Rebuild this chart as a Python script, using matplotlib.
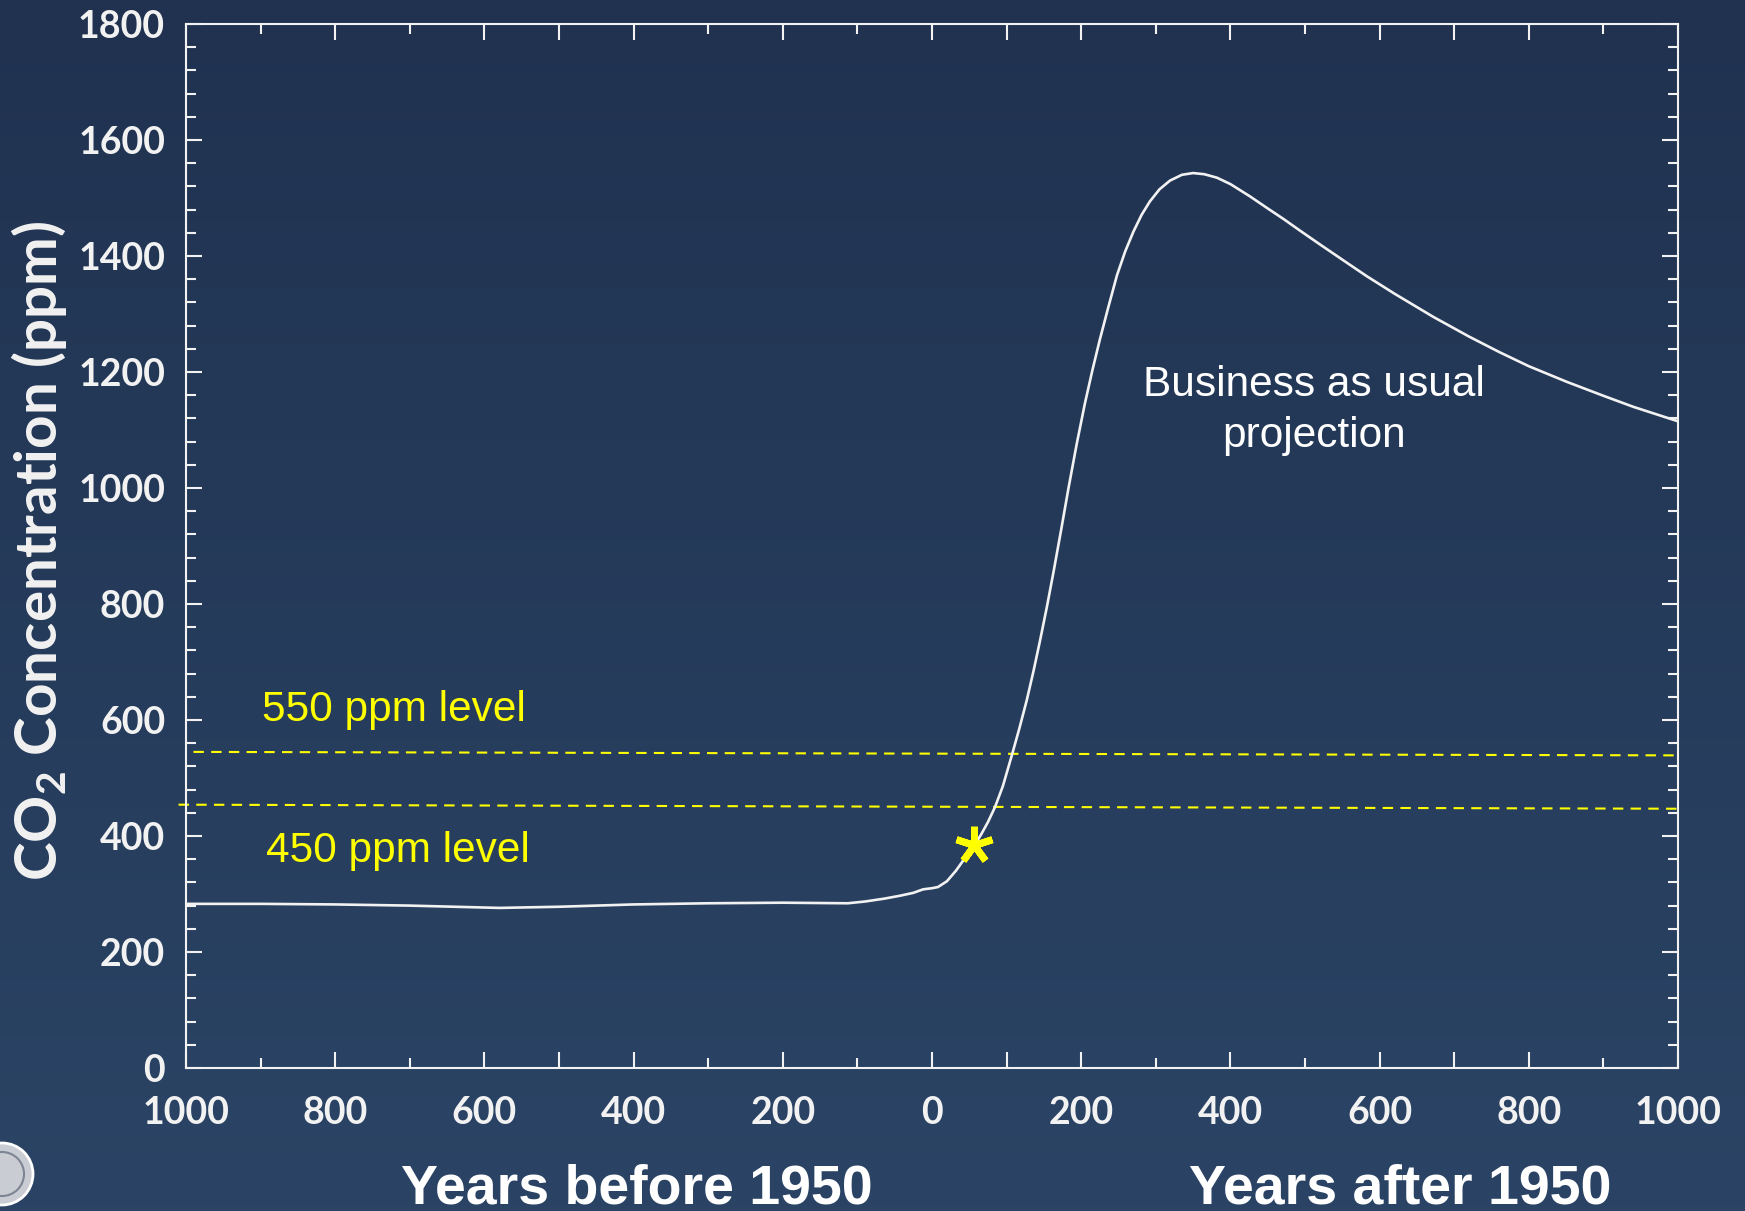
import numpy as np
import matplotlib.pyplot as plt
from matplotlib.ticker import MultipleLocator, FuncFormatter
from matplotlib.patches import Circle

# CO2 record and business-as-usual projection, years relative to 1950
years = [-1000, -900, -800, -700, -580, -500, -400, -300, -200, -113, -90, -64,
         -43, -25, -12, 0, 8, 20, 32, 42, 50, 58, 66, 75, 84.5, 95, 107, 117, 127,
         136, 145, 154, 163, 173, 183, 194, 205, 215, 225, 236, 248, 259, 270,
         281, 292, 305, 319, 335, 350, 365, 382, 400, 426, 450, 471, 493, 520,
         560, 583, 620, 672, 720, 761, 800, 851, 900, 940, 1000]
co2_ppm = [283, 283, 282, 280, 276, 278, 282, 284, 285, 284, 287, 292,
           297, 302, 308, 310, 312, 322, 340, 358, 371, 386, 403, 424, 450, 486, 539, 585, 634,
           684, 738, 795, 856, 927, 1000, 1076, 1146, 1203, 1256, 1310, 1367, 1408, 1442,
           1471, 1494, 1515, 1530, 1540, 1543, 1541, 1535, 1524, 1503, 1482, 1464, 1444, 1420,
           1385, 1365, 1335, 1295, 1261, 1234, 1210, 1183, 1159, 1140, 1115]

# present day marker
star_year = 56
star_ppm = 384

# reference levels (the lines in the original are drawn very slightly skewed)
level_550_x = [-990, 1000]
level_550_y = [545, 539]
level_450_x = [-1010, 1000]
level_450_y = [454, 447]

W, H = 1745, 1211
fig = plt.figure(figsize=(W / 100, H / 100), dpi=100)

# background gradient
bg = fig.add_axes([0, 0, 1, 1], zorder=-10)
top = np.array([32, 50, 80]) / 255
bot = np.array([43, 68, 101]) / 255
t = np.linspace(0, 1, 256)[:, None]
grad = top[None, :] * (1 - t) + bot[None, :] * t
bg.imshow(grad[:, None, :], aspect='auto', extent=[0, 1, 0, 1])
bg.axis('off')

ax = fig.add_axes([186 / W, 1 - 1068 / H, 1492 / W, 1044 / H])
ax.set_facecolor('none')

white = '#f2f2f2'
yellow = '#ffff00'

ax.plot(years, co2_ppm, color=white, lw=1.9, zorder=3,
        solid_joinstyle='round', solid_capstyle='round')

ax.plot(level_550_x, level_550_y, color=yellow, lw=1.5, dashes=(5, 3.5), clip_on=False)
ax.plot(level_450_x, level_450_y, color=yellow, lw=1.5, dashes=(5, 3.5), clip_on=False)

ax.plot([star_year], [star_ppm], marker=(5, 2, 0), ms=27, mew=5,
        color=yellow, mec=yellow, zorder=4)

ax.text(-721, 617, '550 ppm level', color=yellow, fontsize=30.5,
        family='Liberation Sans', ha='center', va='center')
ax.text(-716, 374, '450 ppm level', color=yellow, fontsize=30.5,
        family='Liberation Sans', ha='center', va='center')
ax.text(512, 1134, 'Business as usual\nprojection', color='white', fontsize=30.5,
        family='Liberation Sans', ha='center', va='center', linespacing=1.35)

ax.set_xlim(-1000, 1000)
ax.set_ylim(0, 1800)

ax.xaxis.set_major_locator(MultipleLocator(200))
ax.xaxis.set_minor_locator(MultipleLocator(50))
ax.yaxis.set_major_locator(MultipleLocator(200))
ax.yaxis.set_minor_locator(MultipleLocator(40))
ax.xaxis.set_major_formatter(FuncFormatter(lambda v, p: '%d' % abs(v)))

for s in ax.spines.values():
    s.set_color(white)
    s.set_linewidth(1.5)

ax.tick_params(which='both', direction='in', color=white, width=1.5,
               top=True, right=True)
ax.tick_params(which='major', length=11.5)
ax.tick_params(which='minor', length=7)
ax.tick_params(axis='y', which='major', pad=15)
ax.tick_params(axis='x', which='major', pad=20)
for lab in ax.get_xticklabels() + ax.get_yticklabels():
    lab.set_family('Lato')
    lab.set_weight('bold')
    lab.set_fontsize(27)
    lab.set_color(white)

# the 100-year marks are long ticks as well
ax.set_xticks(np.arange(-900, 1000, 200), minor=True)
ax.tick_params(axis='x', which='minor', length=7)
for tk in ax.xaxis.get_minor_ticks():
    if abs(tk.get_loc()) % 200 == 100:
        tk.tick1line.set_markersize(11.5)
        tk.tick2line.set_markersize(11.5)

plt.rcParams['mathtext.fontset'] = 'custom'
plt.rcParams['mathtext.rm'] = 'Lato'
plt.rcParams['mathtext.bf'] = 'Lato:bold'

fig.text(39 / W, 1 - 551 / H, r'CO$_{\mathbf{2}}$ Concentration (ppm)', rotation=90,
         ha='center', va='center', color=white, fontsize=42, family='Lato',
         weight='bold')

fig.text(637 / W, 1 - 1203 / H, 'Years before 1950', ha='center', va='baseline',
         color='white', fontsize=40, family='Liberation Sans', weight='bold')
fig.text(1400 / W, 1 - 1203 / H, 'Years after 1950', ha='center', va='baseline',
         color='white', fontsize=40, family='Liberation Sans', weight='bold')

# seal in the bottom-left corner
seal = Circle((0.02, (H - 1174) / 100), 0.31, transform=fig.dpi_scale_trans,
              facecolor='#c9ccd2', edgecolor='white', lw=2)
fig.add_artist(seal)
seal_in = Circle((0.02, (H - 1174) / 100), 0.22, transform=fig.dpi_scale_trans,
                 facecolor='none', edgecolor='#7d8594', lw=1.5)
fig.add_artist(seal_in)

fig.savefig('out.png', dpi=100)
